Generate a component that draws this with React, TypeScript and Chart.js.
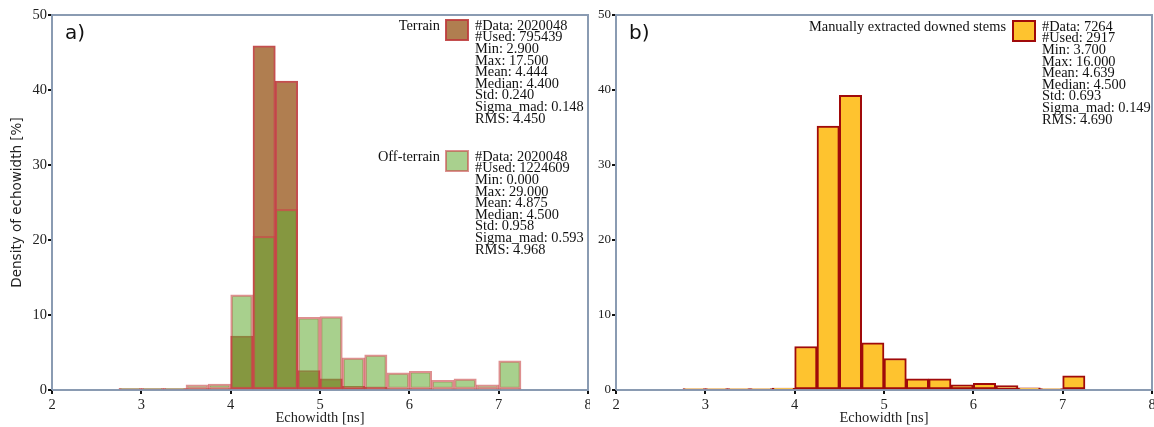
import React, { useEffect, useRef } from "react";
import { Chart, registerables } from "chart.js";

Chart.register(...registerables);

// ---- data ----
const binStarts = [2.75, 3.0, 3.25, 3.5, 3.75, 4.0, 4.25, 4.5, 4.75, 5.0, 5.25, 5.5, 5.75, 6.0, 6.25, 6.5, 6.75, 7.0];
const binWidth = 0.25;
const terrainDensity = [0.2, 0.2, 0.2, 0.2, 0.2, 7.2, 45.9, 41.2, 2.6, 1.5, 0.5, 0.4, 0.2, 0.2, 0.15, 0.15, 0.15, 0.15];
const offTerrainDensity = [0.2, 0.2, 0.2, 0.7, 0.8, 12.7, 20.5, 24.1, 9.7, 9.8, 4.3, 4.7, 2.3, 2.5, 1.3, 1.5, 0.7, 3.9];
const stemsDensity = [0.2, 0.2, 0.2, 0.2, 0.25, 5.8, 35.2, 39.3, 6.3, 4.2, 1.5, 1.5, 0.7, 0.9, 0.6, 0.3, 0.2, 1.9];

const xMin = 2;
const xMax = 8;
const yMin = 0;
const yMax = 50;

const terrainLabel = "Terrain";
const offTerrainLabel = "Off-terrain";
const stemsLabel = "Manually extracted downed stems";

const terrainStats = ["#Data: 2020048", "#Used: 795439", "Min: 2.900", "Max: 17.500", "Mean: 4.444", "Median: 4.400", "Std: 0.240", "Sigma_mad: 0.148", "RMS: 4.450"];
const offTerrainStats = ["#Data: 2020048", "#Used: 1224609", "Min: 0.000", "Max: 29.000", "Mean: 4.875", "Median: 4.500", "Std: 0.958", "Sigma_mad: 0.593", "RMS: 4.968"];
const stemsStats = ["#Data: 7264", "#Used: 2917", "Min: 3.700", "Max: 16.000", "Mean: 4.639", "Median: 4.500", "Std: 0.693", "Sigma_mad: 0.149", "RMS: 4.690"];

const xTitle = "Echowidth [ns]";
const yTitle = "Density of echowidth [%]";

// ---- styles ----
const SERIF = "'Liberation Serif', 'DejaVu Serif', serif";
const SANS = "'DejaVu Sans', sans-serif";
const FRAME = "#8a9bb2";
const terrainFill = "rgb(176,126,80)";
const terrainBorder = "rgba(190,60,60,0.9)";
const offFill = "rgba(100,171,52,0.56)";
const offBorder = "rgba(200,70,70,0.6)";
const stemsFill = "#fec32f";
const stemsBorder = "#a00a0a";

type LegendItem = {
  label: string;
  fill: string;
  stroke: string;
  stats: string[];
  labelRight: number;
  boxX: number;
  top: number;
};

function toXY(vals: number[]) {
  return binStarts.map((s, i) => ({ x: s + binWidth / 2, y: vals[i] }));
}

function makeLegendPlugin(items: LegendItem[], panel: string) {
  return {
    id: "customLegend",
    beforeDatasetsDraw(chart: any) {
      const { ctx, chartArea } = chart;
      ctx.save();
      ctx.strokeStyle = FRAME;
      ctx.lineWidth = 2;
      ctx.beginPath();
      ctx.moveTo(chartArea.left, chartArea.bottom);
      ctx.lineTo(chartArea.left, chartArea.top);
      ctx.lineTo(chartArea.right, chartArea.top);
      ctx.lineTo(chartArea.right, chartArea.bottom);
      ctx.lineTo(chartArea.left, chartArea.bottom);
      ctx.stroke();
      ctx.restore();
    },
    afterDraw(chart: any) {
      const { ctx, chartArea } = chart;
      ctx.save();
      ctx.fillStyle = "#111";
      ctx.font = `20px ${SANS}`;
      ctx.textBaseline = "middle";
      ctx.textAlign = "left";
      ctx.fillText(panel, chartArea.left + 13, chartArea.top + 19);
      const lh = 11.6;
      ctx.font = `14.4px ${SERIF}`;
      for (const it of items) {
        ctx.textAlign = "right";
        ctx.fillText(it.label, it.labelRight, it.top + 6);
        ctx.fillStyle = it.fill;
        ctx.fillRect(it.boxX, it.top, 22, 20);
        ctx.strokeStyle = it.stroke;
        ctx.lineWidth = 2;
        ctx.strokeRect(it.boxX, it.top, 22, 20);
        ctx.fillStyle = "#111";
        ctx.textAlign = "left";
        it.stats.forEach((s, i) => {
          ctx.fillText(s, it.boxX + 29, it.top + 6 + i * lh);
        });
      }
      ctx.restore();
    },
  };
}

function baseOptions(yWidth: number, showTitle: boolean, tickSize: number) {
  return {
    responsive: false,
    animation: false,
    devicePixelRatio: 1,
    layout: { padding: { top: 15, right: 2, left: 0, bottom: 0 } },
    plugins: { legend: { display: false }, tooltip: { enabled: false } },
    scales: {
      x: {
        type: "linear",
        min: xMin,
        max: xMax,
        offset: false,
        afterFit: (s: any) => {
          s.height = 37;
          s.paddingLeft = 0;
          s.paddingRight = 0;
        },
        ticks: { stepSize: 1, color: "#222", font: { family: SERIF, size: 14.5 }, padding: 2, maxRotation: 0 },
        grid: { display: true, offset: false, drawOnChartArea: false, drawTicks: true, tickLength: 4, color: "#111", lineWidth: 2 },
        border: { display: false },
        title: { display: true, text: xTitle, color: "#222", font: { family: SERIF, size: 14.5, lineHeight: 1.2 }, padding: { top: 0, bottom: 0 } },
      },
      y: {
        min: yMin,
        max: yMax,
        afterFit: (s: any) => {
          s.width = yWidth;
          s.paddingTop = 0;
          s.paddingBottom = 0;
        },
        ticks: { stepSize: 10, color: "#222", font: { family: SERIF, size: tickSize }, padding: 1 },
        grid: { display: true, offset: false, drawOnChartArea: false, drawTicks: true, tickLength: 4, color: "#111", lineWidth: 2 },
        border: { display: false },
        title: { display: showTitle, text: yTitle, color: "#222", font: { family: SANS, size: 13.5, lineHeight: 1.2 }, padding: { top: 9, bottom: 0 } },
      },
    },
  };
}

function LeftPanel() {
  const ref = useRef<HTMLCanvasElement>(null);
  useEffect(() => {
    if (!ref.current) return;
    const items: LegendItem[] = [
      { label: terrainLabel, fill: terrainFill, stroke: terrainBorder, stats: terrainStats, labelRight: 440, boxX: 446, top: 20 },
      { label: offTerrainLabel, fill: "#a9d08e", stroke: offBorder, stats: offTerrainStats, labelRight: 440, boxX: 446, top: 151 },
    ];
    const chart = new Chart(ref.current, {
      type: "bar",
      data: {
        datasets: [
          { label: terrainLabel, data: toXY(terrainDensity), backgroundColor: terrainFill, borderColor: terrainBorder, borderWidth: 2, borderSkipped: false, barPercentage: 1, categoryPercentage: 1, grouped: false, order: 1 },
          { label: offTerrainLabel, data: toXY(offTerrainDensity), backgroundColor: offFill, borderColor: offBorder, borderWidth: 2, borderSkipped: false, barPercentage: 1, categoryPercentage: 1, grouped: false, order: 0 },
        ],
      } as any,
      options: baseOptions(52, true, 14.5) as any,
      plugins: [makeLegendPlugin(items, "a)")],
    });
    return () => chart.destroy();
  }, []);
  return <canvas ref={ref} width={590} height={427} style={{ position: "absolute", left: 0, top: 0 }} />;
}

function RightPanel() {
  const ref = useRef<HTMLCanvasElement>(null);
  useEffect(() => {
    if (!ref.current) return;
    const items: LegendItem[] = [
      { label: stemsLabel, fill: stemsFill, stroke: stemsBorder, stats: stemsStats, labelRight: 416, boxX: 423, top: 21 },
    ];
    const chart = new Chart(ref.current, {
      type: "bar",
      data: {
        datasets: [
          { label: stemsLabel, data: toXY(stemsDensity), backgroundColor: stemsFill, borderColor: stemsBorder, borderWidth: 2, borderSkipped: false, barPercentage: 1, categoryPercentage: 1, grouped: false },
        ],
      } as any,
      options: baseOptions(26, false, 13) as any,
      plugins: [makeLegendPlugin(items, "b)")],
    });
    return () => chart.destroy();
  }, []);
  return <canvas ref={ref} width={564} height={427} style={{ position: "absolute", left: 590, top: 0 }} />;
}

export default function App() {
  return (
    <div style={{ position: "fixed", left: 0, top: 0, width: 1154, height: 427, background: "#fff", overflow: "hidden" }}>
      <LeftPanel />
      <RightPanel />
    </div>
  );
}
